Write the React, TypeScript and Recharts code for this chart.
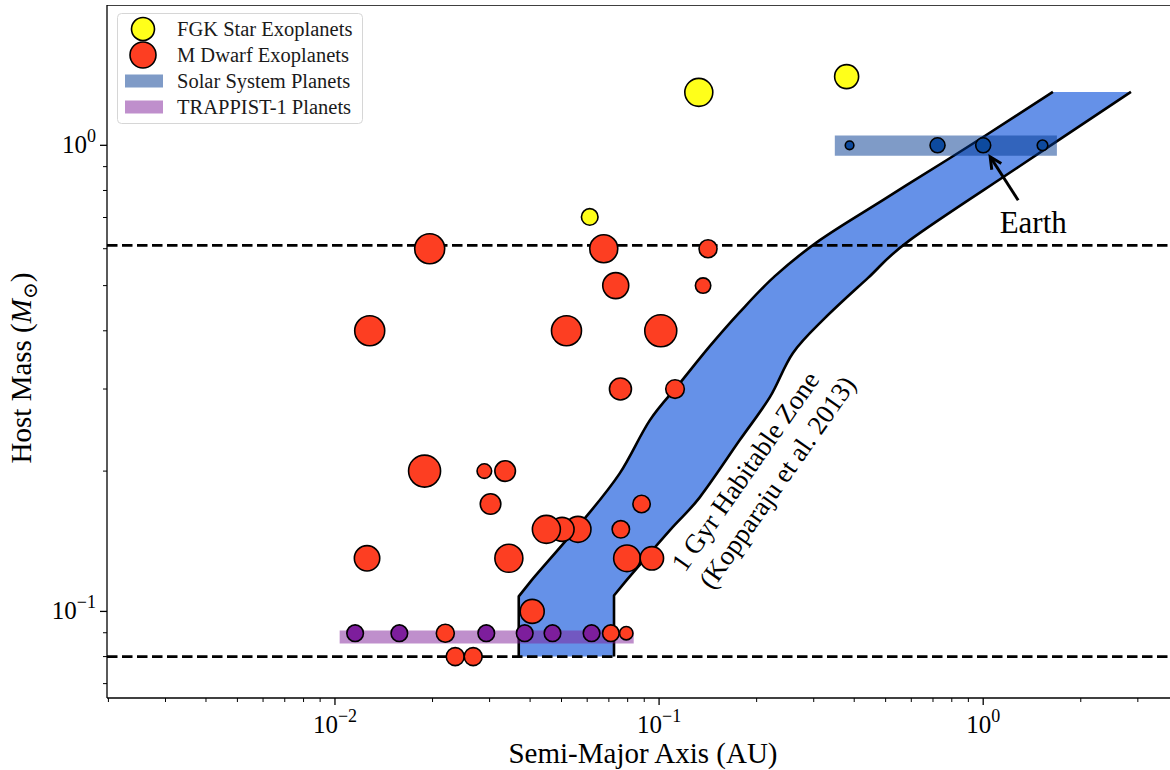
import React from "react";
import { ScatterChart, Scatter, XAxis, YAxis } from "recharts";

const FONT = '"Liberation Serif", "DejaVu Serif", serif';

// axis limits (AU, solar masses)
const X_DOMAIN = [0.00198, 3.77];
const Y_DOMAIN = [0.0652, 2.0];
const X_TICKS = [
  0.002, 0.003, 0.004, 0.005, 0.006, 0.007, 0.008, 0.009,
  0.01, 0.02, 0.03, 0.04, 0.05, 0.06, 0.07, 0.08, 0.09,
  0.1, 0.2, 0.3, 0.4, 0.5, 0.6, 0.7, 0.8, 0.9, 1, 2, 3,
];
const Y_TICKS = [0.07, 0.08, 0.09, 0.1, 0.2, 0.3, 0.4, 0.5, 0.6, 0.7, 0.8, 0.9, 1];

// FGK host exoplanets
const fgkA = [0.1326, 0.379, 0.0611];
const fgkMass = [1.299, 1.404, 0.702];
const fgkSize = [14, 12, 8.3];

// M dwarf host exoplanets
const mdA = [
  0.0196, 0.0675, 0.1416, 0.0735, 0.1367, 0.0128, 0.0518, 0.1012, 0.076, 0.112,
  0.0189, 0.0289, 0.0335, 0.0302, 0.0883, 0.0562, 0.0502, 0.0449, 0.0762, 0.01256,
  0.0344, 0.0796, 0.095, 0.0406, 0.0219, 0.071, 0.0792, 0.0235, 0.0267,
];
const mdMass = [
  0.6, 0.6, 0.6, 0.5, 0.5, 0.4, 0.4, 0.4, 0.3, 0.3,
  0.2, 0.2, 0.2, 0.17, 0.17, 0.15, 0.15, 0.15, 0.15, 0.13,
  0.13, 0.13, 0.13, 0.1, 0.0898, 0.0898, 0.0898, 0.08, 0.08,
];
const mdSize = [
  15, 14, 9, 13, 7.7, 15, 15, 16, 11, 9.3,
  16, 7.3, 10.3, 10.3, 8.7, 13, 12, 14, 8.7, 12.7,
  14, 13.3, 11.7, 12, 9, 8.3, 6.7, 9, 9,
];

// TRAPPIST-1 b..h
const trA = [0.01154, 0.0158, 0.0219, 0.0293, 0.0385, 0.0469, 0.0619];
const trMass = [0.0898, 0.0898, 0.0898, 0.0898, 0.0898, 0.0898, 0.0898];
const trSize = [8.3, 8.3, 8.3, 8.3, 8.3, 8.3, 8.3];

// Mercury, Venus, Earth, Mars
const solarA = [0.387, 0.723, 1.0, 1.524];
const solarMass = [1, 1, 1, 1];
const solarSize = [4.3, 7.5, 7.5, 5.3];

// shaded bands
const solarBandA = [0.3485, 1.688];
const solarBandMass = [0.95, 1.05];
const trBandA = [0.01034, 0.0835];
const trBandMass = [0.0853, 0.091];

// 1 Gyr habitable zone edges (bottom -> top)
const hzInnerA = [0.0369, 0.0369, 0.0404, 0.0583, 0.0756, 0.0936, 0.1159, 0.1434, 0.1774, 0.2276, 0.3133, 0.4903, 0.7727, 1.0, 1.641];
const hzInnerMass = [0.08, 0.1077, 0.1166, 0.1568, 0.1978, 0.257, 0.3088, 0.3707, 0.4386, 0.524, 0.626, 0.763, 0.93, 1.042, 1.302];
const hzOuterA = [0.0726, 0.0726, 0.0793, 0.1079, 0.1335, 0.1774, 0.2197, 0.2586, 0.3246, 0.4405, 0.5939, 1.298, 2.857];
const hzOuterMass = [0.08, 0.1082, 0.1166, 0.1493, 0.1757, 0.2331, 0.2882, 0.3581, 0.4257, 0.5188, 0.626, 0.9028, 1.302];

// dashed host-mass limits
const massLimits = [0.61, 0.08];

const hzLabelPos = [{ a: 0.2067, m: 0.1944 }];

const zip = (a: number[], m: number[], s?: number[]) =>
  a.map((v, i) => ({ a: v, m: m[i], s: s ? s[i] : 0 }));

const rect = (a: number[], m: number[]) => [
  { a: a[0], m: m[0] },
  { a: a[1], m: m[0] },
  { a: a[1], m: m[1] },
  { a: a[0], m: m[1] },
];

const hzInner = zip(hzInnerA, hzInnerMass);
const hzOuter = zip(hzOuterA, hzOuterMass);
const hzPoly = [...hzInner, ...hzOuter.slice().reverse()];
const hline = (m: number) => [
  { a: X_DOMAIN[0], m },
  { a: X_DOMAIN[1], m },
];

type P = { x: number; y: number };
const f = (p: P) => `${p.x},${p.y}`;

// straight vertical start + corner, then a Catmull-Rom curve through the rest
const edgeSegs = (pts: P[]) => {
  const out: P[][] = [];
  for (let i = 0; i < pts.length - 1; i++) {
    const p0 = pts[i];
    const p1 = pts[i + 1];
    if (i < 2) {
      out.push([p0, p0, p1, p1]);
      continue;
    }
    const pm = pts[i - 1];
    const p2 = pts[i + 2] || p1;
    const c1 = { x: p0.x + (p1.x - pm.x) / 6, y: p0.y + (p1.y - pm.y) / 6 };
    const c2 = { x: p1.x - (p2.x - p0.x) / 6, y: p1.y - (p2.y - p0.y) / 6 };
    out.push([p0, c1, c2, p1]);
  }
  return out;
};

const edgePath = (pts: P[]) =>
  `M${f(pts[0])} ` + edgeSegs(pts).map((s) => `C${f(s[1])} ${f(s[2])} ${f(s[3])}`).join(" ");

const hzFill = (p: any) => {
  const pts: P[] = p.points;
  const n = hzInner.length;
  const inner = pts.slice(0, n);
  const outer = pts.slice(n).reverse();
  const back = edgeSegs(outer)
    .reverse()
    .map((s) => `C${f(s[2])} ${f(s[1])} ${f(s[0])}`)
    .join(" ");
  return <path d={`${edgePath(inner)} L${f(outer[outer.length - 1])} ${back} Z`} fill="#6591e8" stroke="none" />;
};

const hzEdge = (p: any) => (
  <path d={edgePath(p.points)} fill="none" stroke="#000" strokeWidth={2.6} strokeLinejoin="round" />
);

const path = (pts: P[], close: boolean) =>
  pts.map((p, i) => `${i ? "L" : "M"}${f(p)}`).join(" ") + (close ? " Z" : "");

const fillShape = (fill: string, opacity = 1) => (p: any) => (
  <path d={path(p.points, true)} fill={fill} fillOpacity={opacity} stroke="none" />
);
const strokeShape = (stroke: string, width: number, dash?: string) => (p: any) => (
  <path d={path(p.points, false)} fill="none" stroke={stroke} strokeWidth={width} strokeDasharray={dash} />
);
const Nothing = () => <g />;
const dot = (fill: string) => (p: any) => (
  <circle cx={p.cx} cy={p.cy} r={p.payload.s} fill={fill} stroke="#000" strokeWidth={1.6} />
);

const sup = (v: number) => {
  const e = Math.round(Math.log10(v));
  return { major: Math.abs(Math.log10(v) - e) < 1e-6, e };
};

const XTick = ({ x, y, payload }: any) => {
  const { major, e } = sup(payload.value);
  return (
    <g>
      <line x1={x} x2={x} y1={y} y2={y + (major ? 7 : 4)} stroke="#000" strokeWidth={major ? 1.3 : 1} />
      {major && (
        <text x={x} y={y + 35} textAnchor="middle" fontFamily={FONT} fontSize={25} fill="#000">
          10
          <tspan dy={-11} fontSize={18}>
            {e === 0 ? "0" : `\u2212${-e}`}
          </tspan>
        </text>
      )}
    </g>
  );
};

const YTick = ({ x, y, payload }: any) => {
  const { major, e } = sup(payload.value);
  return (
    <g>
      <line x1={x} x2={x - (major ? 7 : 4)} y1={y} y2={y} stroke="#000" strokeWidth={major ? 1.3 : 1} />
      {major && (
        <text x={x - 11} y={y + 8} textAnchor="end" fontFamily={FONT} fontSize={25} fill="#000">
          10
          <tspan dy={-11} fontSize={18}>
            {e === 0 ? "0" : `\u2212${-e}`}
          </tspan>
        </text>
      )}
    </g>
  );
};

const EarthNote = (p: any) => {
  const { cx, cy } = p;
  const tip = [cx + 7, cy + 11.5];
  const tail = [cx + 35, cy + 55];
  const dx = tail[0] - tip[0];
  const dy = tail[1] - tip[1];
  const L = Math.hypot(dx, dy);
  const ux = dx / L;
  const uy = dy / L;
  const h = 13;
  const rot = (t: number) => [ux * Math.cos(t) - uy * Math.sin(t), ux * Math.sin(t) + uy * Math.cos(t)];
  const [ax, ay] = rot(0.45);
  const [bx, by] = rot(-0.45);
  return (
    <g>
      <line x1={tail[0]} y1={tail[1]} x2={tip[0]} y2={tip[1]} stroke="#000" strokeWidth={3} />
      <polyline
        points={`${tip[0] + ax * h},${tip[1] + ay * h} ${tip[0]},${tip[1]} ${tip[0] + bx * h},${tip[1] + by * h}`}
        fill="none"
        stroke="#000"
        strokeWidth={3}
      />
      <text x={cx + 50} y={cy + 88} textAnchor="middle" fontFamily={FONT} fontSize={31} fill="#000">
        Earth
      </text>
    </g>
  );
};

const HzNote = (p: any) => (
  <g transform={`translate(${p.cx},${p.cy}) rotate(-55)`} fontFamily={FONT} fontSize={27} fill="#000">
    <text x={-4.7} y={-16.3 + 9} textAnchor="middle">
      1 Gyr Habitable Zone
    </text>
    <text x={4.7} y={16.3 + 9} textAnchor="middle">
      (Kopparaju et al. 2013)
    </text>
  </g>
);

const XLabel = () => (
  <text x={643} y={763} textAnchor="middle" fontFamily={FONT} fontSize={29} fill="#000">
    Semi-Major Axis (AU)
  </text>
);

const YLabel = () => (
  <text
    transform="translate(31,368) rotate(-90)"
    textAnchor="middle"
    fontFamily={FONT}
    fontSize={29}
    fill="#000"
  >
    Host Mass (<tspan fontStyle="italic">M</tspan>
    <tspan dy={6} fontSize={20}>
      {"\u2299"}
    </tspan>
    <tspan dy={-6}>)</tspan>
  </text>
);

const FGK_COLOR = "#ffff1a";
const MD_COLOR = "#fd3e22";
const TR_COLOR = "#7d1e9c";
const SOLAR_COLOR = "#0d4a9e";

const legendRows = [
  { label: "FGK Star Exoplanets", kind: "dot", color: FGK_COLOR, r: 11.5 },
  { label: "M Dwarf Exoplanets", kind: "dot", color: MD_COLOR, r: 13 },
  { label: "Solar System Planets", kind: "patch", color: "#7f9bc7", r: 0 },
  { label: "TRAPPIST-1 Planets", kind: "patch", color: "#bf8fcc", r: 0 },
];

const PlotLegend = () => (
  <svg width={247} height={112} style={{ position: "absolute", left: 117, top: 13 }}>
    <rect x={0.5} y={0.5} width={245} height={110} rx={4} fill="#fff" fillOpacity={0.8} stroke="#d6d6d6" />
    {legendRows.map((row, i) => {
      const cy = 16 + i * 26;
      return (
        <g key={row.label}>
          {row.kind === "dot" ? (
            <circle cx={26} cy={cy} r={row.r} fill={row.color} stroke="#000" strokeWidth={1.6} />
          ) : (
            <rect x={8} y={cy - 6.5} width={38} height={13} fill={row.color} />
          )}
          <text x={60} y={cy + 7} fontFamily={FONT} fontSize={20.5} fill="#1a1a1a">
            {row.label}
          </text>
        </g>
      );
    })}
  </svg>
);

export default function App() {
  return (
    <div style={{ position: "absolute", left: 0, top: 0, width: 1170, height: 770, background: "#fff" }}>
      <ScatterChart width={1170} height={770} margin={{ top: 5, right: 0, bottom: 0, left: 0 }}>
        <XAxis
          dataKey="a"
          type="number"
          scale="log"
          domain={X_DOMAIN}
          allowDataOverflow
          ticks={X_TICKS}
          interval={0}
          height={72}
          tickSize={0}
          tickMargin={0}
          tick={<XTick />}
          axisLine={{ stroke: "#000", strokeWidth: 1.3 }}
          label={{ content: XLabel }}
        />
        <YAxis
          dataKey="m"
          type="number"
          scale="log"
          domain={Y_DOMAIN}
          allowDataOverflow
          ticks={Y_TICKS}
          interval={0}
          width={107}
          tickSize={0}
          tickMargin={0}
          tick={<YTick />}
          axisLine={{ stroke: "#000", strokeWidth: 1.3 }}
          label={{ content: YLabel }}
        />

        <Scatter data={hzPoly} shape={Nothing} line={hzFill} isAnimationActive={false} />
        <Scatter data={hzInner} shape={Nothing} line={hzEdge} isAnimationActive={false} />
        <Scatter data={hzOuter} shape={Nothing} line={hzEdge} isAnimationActive={false} />
        {massLimits.map((m) => (
          <Scatter
            key={m}
            data={hline(m)}
            shape={Nothing}
            line={strokeShape("#000", 2.6, "10.5 4.5")}
            isAnimationActive={false}
          />
        ))}
        <Scatter data={hline(Y_DOMAIN[1])} shape={Nothing} line={strokeShape("#000", 1.3)} isAnimationActive={false} />

        <Scatter data={rect(solarBandA, solarBandMass)} shape={Nothing} line={fillShape("#00378f", 0.5)} isAnimationActive={false} />
        <Scatter data={rect(trBandA, trBandMass)} shape={Nothing} line={fillShape("#7f1f99", 0.5)} isAnimationActive={false} />

        <Scatter data={zip(trA, trMass, trSize)} shape={dot(TR_COLOR)} isAnimationActive={false} />
        <Scatter data={zip(solarA, solarMass, solarSize)} shape={dot(SOLAR_COLOR)} isAnimationActive={false} />
        <Scatter data={zip(fgkA, fgkMass, fgkSize)} shape={dot(FGK_COLOR)} isAnimationActive={false} />
        <Scatter data={zip(mdA, mdMass, mdSize)} shape={dot(MD_COLOR)} isAnimationActive={false} />

        <Scatter data={[{ a: solarA[2], m: solarMass[2] }]} shape={EarthNote} isAnimationActive={false} />
        <Scatter data={hzLabelPos} shape={HzNote} isAnimationActive={false} />
      </ScatterChart>
      <PlotLegend />
    </div>
  );
}
